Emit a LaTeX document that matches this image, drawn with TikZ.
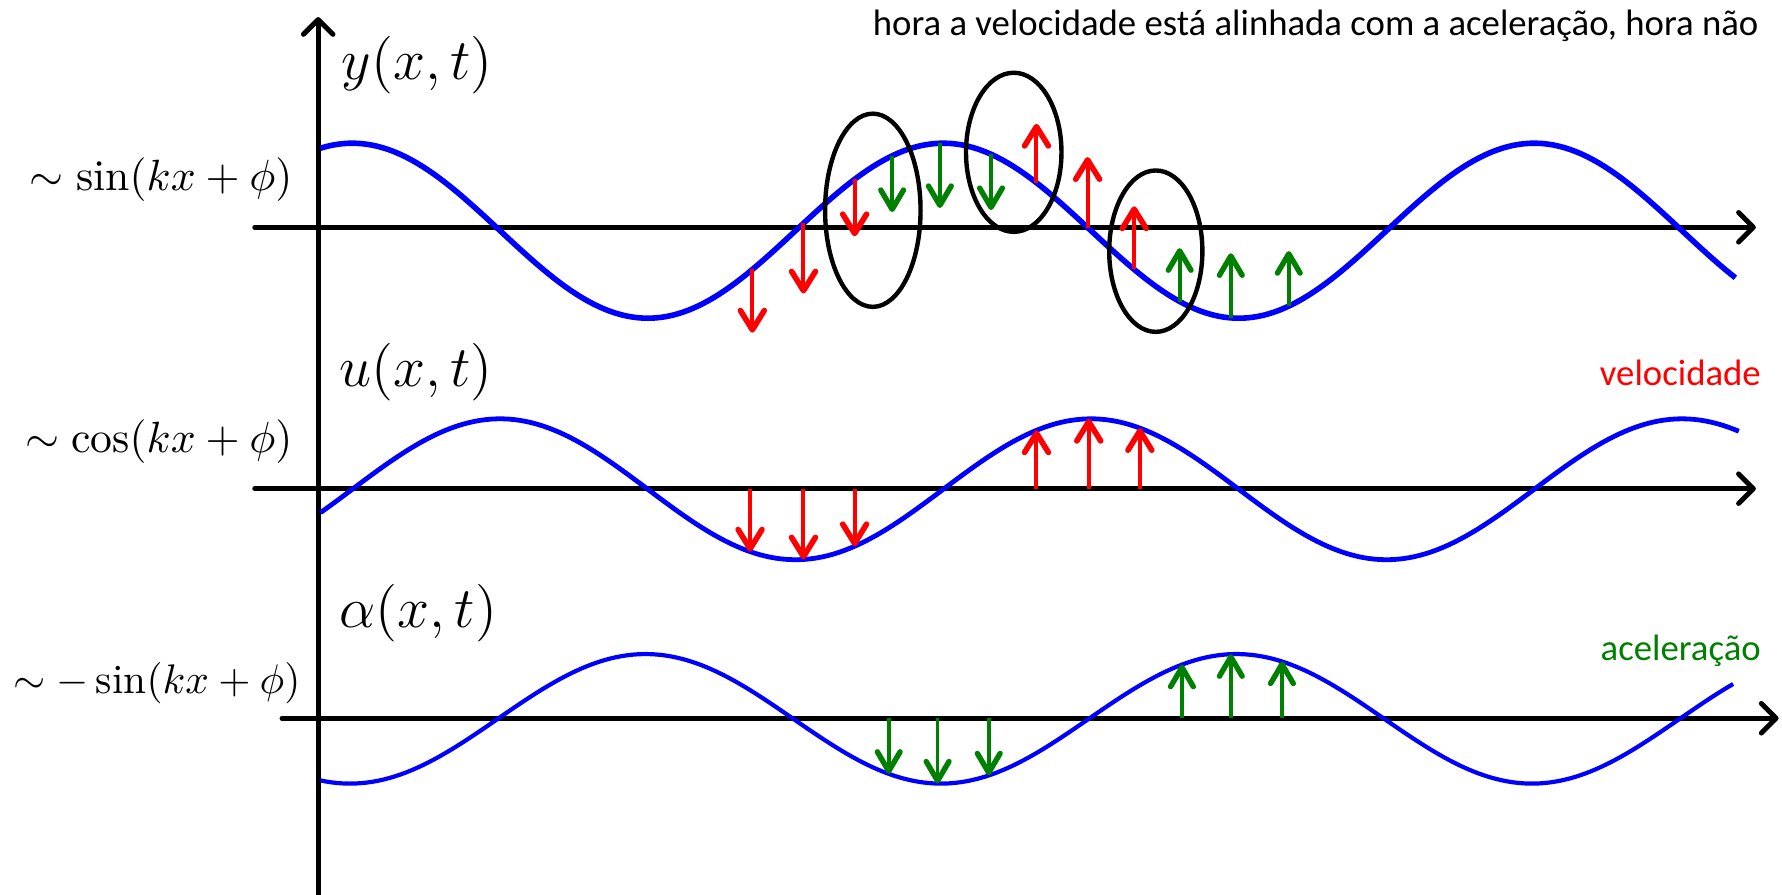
\documentclass[tikz,border=0pt]{standalone}
\usepackage{graphicx}
\usepackage{fontspec}
\newfontfamily\carlito{Carlito}
\usetikzlibrary{arrows.meta}
\definecolor{vgreen}{RGB}{0,128,0}
\tikzset{
  axisline/.style={line width=1.15pt, line cap=round, -{Straight Barb[length=1.3mm,width=2.6mm,line width=1.25pt,round]}},
  wave/.style={blue, line join=round},
  velarrow/.style={red, line width=1pt, -{Straight Barb[length=1.7mm,width=2.1mm,line width=1.4pt,round]}},
  accarrow/.style={vgreen, line width=0.95pt, -{Straight Barb[length=1.7mm,width=2mm,line width=1.35pt,round]}},
  ring/.style={black, line width=1.1pt},
  mathlab/.style={inner sep=0pt, font=\fontsize{14.4}{16}\selectfont},
  funclab/.style={inner sep=0pt, font=\fontsize{10.95}{13}\selectfont},
  txtlab/.style={inner sep=0pt, font=\carlito\fontsize{9.2}{11}\selectfont}
}
\begin{document}
\begin{tikzpicture}[x=0.1mm,y=-0.1mm]
\useasboundingbox (0,0) rectangle (1568,787);
\def\kk{0.6923077}
% axes
\coordinate (vbot) at (280,787);
\coordinate (vtop) at (280,15);
\draw[axisline] (vbot) -- (vtop);
\coordinate (a1s) at (224,200); \coordinate (a1e) at (1545,200);
\coordinate (a2s) at (224,430); \coordinate (a2e) at (1545,430);
\coordinate (a3s) at (248,632); \coordinate (a3e) at (1565,632);
\draw[axisline] (a1s) -- (a1e);
\draw[axisline] (a2s) -- (a2e);
\draw[axisline] (a3s) -- (a3e);
% waves
\draw[wave, line width=1.4pt] plot[domain=282:1527, samples=250] (\x, {203-77*sin((\x-700)*\kk)});
\draw[wave, line width=1.2pt] plot[domain=282:1530, samples=250] (\x, {430.5-62*sin((\x-310)*\kk)});
\draw[wave, line width=1.05pt] plot[domain=282:1525, samples=250] (\x, {632.5-57*sin((\x-438)*\kk)});
% top panel arrows
\foreach \xx in {662,707,752,912,957,998} {
  \pgfmathsetmacro\ys{203-77*sin((\xx-700)*\kk)}
  \pgfmathsetmacro\ye{\ys-62*sin((\xx-310)*\kk)}
  \draw[velarrow] (\xx,\ys) -- (\xx,\ye);
}
\foreach \xx in {785,827,872,1038,1083,1134} {
  \pgfmathsetmacro\ys{203-77*sin((\xx-700)*\kk)}
  \pgfmathsetmacro\ye{\ys-57*sin((\xx-438)*\kk)}
  \draw[accarrow] (\xx,\ys) -- (\xx,\ye);
}
% middle panel arrows
\foreach \xx in {660,707,752,912,958,1003} {
  \pgfmathsetmacro\ye{430.5-62*sin((\xx-310)*\kk)}
  \draw[velarrow] (\xx,430) -- (\xx,\ye);
}
% bottom panel arrows
\foreach \xx in {782,825,870,1040,1083,1128} {
  \pgfmathsetmacro\ye{632.5-57*sin((\xx-438)*\kk)}
  \draw[accarrow] (\xx,632) -- (\xx,\ye);
}
% ellipses
\draw[ring] (768,185) ellipse [x radius=42, y radius=85];
\draw[ring] (892,134) ellipse [x radius=42, y radius=70];
\draw[ring] (1017,221) ellipse [x radius=41, y radius=71];
% labels
\node[mathlab, anchor=base west] (ylab) at (300,70) {$y(x,t)$};
\node[mathlab, anchor=base west] (ulab) at (298,340) {$u(x,t)$};
\node[mathlab, anchor=base west] (alab) at (298,552) {$\alpha(x,t)$};
\node[funclab, anchor=base east] (yfun) at (258,168) {$\sim\sin(kx+\phi)$};
\node[funclab, anchor=base east] (ufun) at (258,398) {$\sim\cos(kx+\phi)$};
\node[funclab, anchor=base east] (afun) at (265,610) {\scalebox{0.945}{$\sim-\sin(kx+\phi)$}};
\node[txtlab, anchor=base east] (note) at (1548,31) {hora a velocidade está alinhada com a aceleração, hora não};
\node[txtlab, anchor=base east, text=red] (vel) at (1550,339) {velocidade};
\node[txtlab, anchor=base east, text=vgreen] (acc) at (1550,581) {aceleração};
\end{tikzpicture}
\end{document}
